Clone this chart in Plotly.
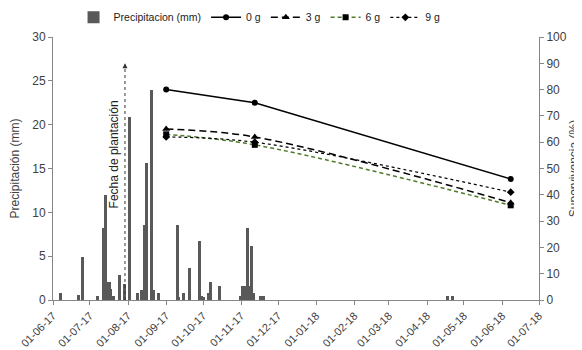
import plotly.graph_objects as go

# Precipitation data (daily, mm)
precip_dates = [
    "2017-06-07", "2017-06-22", "2017-06-25", "2017-07-07", "2017-07-12", "2017-07-14",
    "2017-07-16", "2017-07-17", "2017-07-18", "2017-07-20", "2017-07-25", "2017-07-29",
    "2017-08-02", "2017-08-09", "2017-08-12", "2017-08-14", "2017-08-16", "2017-08-20",
    "2017-08-22", "2017-08-26", "2017-09-10", "2017-09-11", "2017-09-15", "2017-09-20",
    "2017-09-28", "2017-09-30", "2017-10-01", "2017-10-05", "2017-10-07", "2017-10-14",
    "2017-10-31", "2017-11-02", "2017-11-04", "2017-11-06", "2017-11-07", "2017-11-09",
    "2017-11-11", "2017-11-17", "2017-11-19", "2018-04-18", "2018-04-22",
]
precip_mm = [
    0.8, 0.6, 4.9, 0.4, 8.2, 12.0,
    2.1, 2.1, 1.3, 0.4, 2.9, 1.8,
    20.9, 0.8, 1.1, 8.5, 15.6, 24.0,
    1.1, 0.8, 8.5, 0.3, 0.8, 3.6,
    6.7, 0.5, 0.3, 0.8, 2.0, 1.6,
    0.4, 1.6, 1.6, 8.2, 1.6, 6.2,
    0.8, 0.4, 0.4, 0.4, 0.4,
]

# Survival data (%)
surv_dates = ["2017-09-01", "2017-11-12", "2018-06-08"]
surv_0g = [80, 75, 46]
surv_3g = [65, 62, 37]
surv_6g = [63, 59, 36]
surv_9g = [62, 60, 41]

x_ticks = ["2017-06-01", "2017-07-01", "2017-08-01", "2017-09-01", "2017-10-01", "2017-11-01",
           "2017-12-01", "2018-01-01", "2018-02-01", "2018-03-01", "2018-04-01", "2018-05-01",
           "2018-06-01", "2018-07-01"]

plant_date = "2017-07-29 12:00"

FONT = "Liberation Sans, Arial, sans-serif"
TXT = "#404040"
AX = "#868686"

fig = go.Figure()

fig.add_trace(go.Bar(
    x=precip_dates, y=precip_mm, name="Precipitacion (mm)",
    marker=dict(color="#595959", line=dict(width=0)),
    width=2.4 * 86400000,
))

fig.add_trace(go.Scatter(
    x=surv_dates, y=surv_0g, name="0 g", yaxis="y2", mode="lines+markers",
    line=dict(color="black", width=1.5),
    marker=dict(symbol="circle", size=6, color="black"),
))
fig.add_trace(go.Scatter(
    x=surv_dates, y=surv_3g, name="3 g", yaxis="y2", mode="lines+markers",
    line=dict(color="black", width=1.5, dash="7px,4px", shape="spline"),
    marker=dict(symbol="triangle-up", size=7, color="black"),
))
fig.add_trace(go.Scatter(
    x=surv_dates, y=surv_6g, name="6 g", yaxis="y2", mode="lines+markers",
    line=dict(color="#4f7a28", width=1.5, dash="4px,3px", shape="spline"),
    marker=dict(symbol="square", size=6, color="black"),
))
fig.add_trace(go.Scatter(
    x=surv_dates, y=surv_9g, name="9 g", yaxis="y2", mode="lines+markers",
    line=dict(color="black", width=1.2, dash="dot", shape="spline"),
    marker=dict(symbol="diamond", size=6, color="black"),
))

# Planting-date arrow and label
fig.add_shape(type="line", x0=plant_date, x1=plant_date, y0=0, y1=26.4, xref="x", yref="y",
              line=dict(color="#333", width=1, dash="dot"))
fig.add_annotation(
    x=plant_date, y=27, xref="x", yref="y", ax=0, ay=6,
    showarrow=True, arrowhead=2, arrowsize=1, arrowwidth=1, arrowcolor="#333",
    text="",
)
fig.add_annotation(
    x=plant_date, y=16.6, xref="x", yref="y", text="Fecha de plantación",
    textangle=-90, showarrow=False, xshift=-11,
    font=dict(family=FONT, size=12, color="#222"),
)

# The page body has an 8px margin, so the figure is sized to fit the 582x350 window
fig.update_layout(
    width=574, height=342,
    margin=dict(l=45, r=43, t=29, b=50, autoexpand=False),
    paper_bgcolor="white", plot_bgcolor="white",
    font=dict(family=FONT, size=11, color=TXT),
    bargap=0,
    showlegend=True,
    legend=dict(orientation="h", x=0.425, xanchor="center", y=1.075, yanchor="middle",
                font=dict(family=FONT, size=10.5, color="#222"), itemwidth=30,
                tracegroupgap=0, bgcolor="rgba(0,0,0,0)"),
    xaxis=dict(
        type="date", range=["2017-06-01", "2018-07-01"], automargin=False,
        tickvals=x_ticks, tickformat="%d-%m-%y", tickangle=-45,
        showgrid=False, showline=True, linecolor=AX, linewidth=1,
        ticks="outside", ticklen=4, tickcolor=AX,
        tickfont=dict(family=FONT, size=11, color=TXT), zeroline=False,
    ),
    yaxis=dict(
        range=[0, 30], tickvals=[0, 5, 10, 15, 20, 25, 30], automargin=False,
        title=dict(text="Precipitación (mm)", font=dict(family=FONT, size=12, color=TXT), standoff=12),
        showgrid=False, showline=True, linecolor=AX, linewidth=1,
        ticks="outside", ticklen=4, tickcolor=AX, zeroline=False,
        tickfont=dict(family=FONT, size=12, color=TXT),
    ),
    yaxis2=dict(
        range=[0, 100], tickvals=list(range(0, 101, 10)), overlaying="y", side="right",
        automargin=False,
        title=dict(text="Supervivencia (%)", font=dict(family=FONT, size=12, color=TXT), standoff=3),
        showgrid=False, showline=True, linecolor=AX, linewidth=1,
        ticks="outside", ticklen=4, tickcolor=AX, zeroline=False,
        tickfont=dict(family=FONT, size=12, color=TXT),
    ),
)

fig.write_html("out.html")
